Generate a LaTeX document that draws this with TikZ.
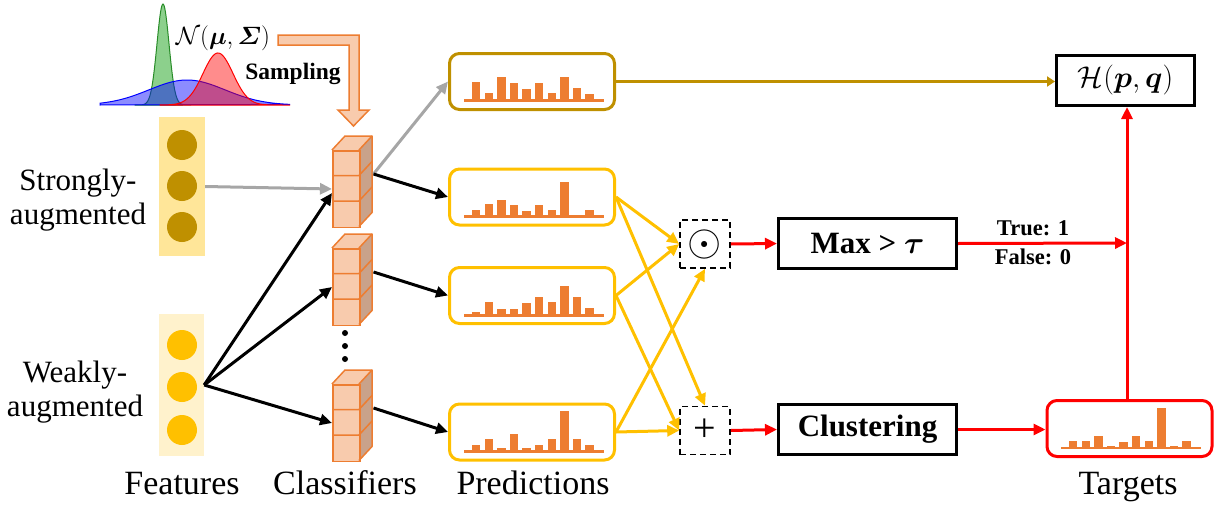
\RequirePackage{fix-cm}
\documentclass[tikz,border=0pt]{standalone}
\usepackage{amsmath,bm}
\usepackage{fontspec}
\setmainfont{Liberation Serif}
\usetikzlibrary{arrows.meta,calc}
\definecolor{peach}{HTML}{F8CBAD}
\definecolor{orangec}{HTML}{ED7D31}
\definecolor{sidec}{RGB}{201,162,138}
\definecolor{goldc}{HTML}{BF9000}
\definecolor{yellowc}{HTML}{FFC000}
\definecolor{strongbg}{HTML}{FFE699}
\definecolor{weakbg}{HTML}{FFF2CC}
\definecolor{grayc}{HTML}{A6A6A6}
\definecolor{barc}{HTML}{ED7D31}
\definecolor{gfill}{RGB}{0,150,0}
\definecolor{gline}{RGB}{40,140,40}

\newcommand{\clsstack}[3]{%
  \fill[sidec] (#2+27,#3) -- ++(13,-14) -- ++(0,76.5) -- ++(-13,14) -- cycle;
  \fill[peach] (#2,#3) -- ++(13,-14) -- ++(27,0) -- ++(-13,14) -- cycle;
  \node[stackfront, anchor=north west] (#1) at (#2,#3) {};
  \draw[stackline] (#2,#3) -- ++(13,-14) -- ++(27,0) -- ++(0,76.5) -- ++(-13,14);
  \draw[stackline] (#2+27,#3) -- ++(13,-14);
  \draw[stackline] (#2,#3+25.5) -- ++(27,0) -- ++(13,-14);
  \draw[stackline] (#2,#3+51) -- ++(27,0) -- ++(13,-14);
}
\newcommand{\histo}[3]{%
  \fill[barc] (#1+16,#2-9.5) rectangle (#1+156,#2-12);
  \foreach \h [count=\i from 0] in {#3}
    \fill[barc] ({#1+24+12.6*\i},#2-10.5) rectangle ++(8.3,-\h);
}

\begin{document}
\begin{tikzpicture}[x=1pt,y=-1pt,
  stackfront/.style={draw=orangec, fill=peach, line width=1.5pt, minimum width=27pt, minimum height=76.5pt, inner sep=0pt},
  stackline/.style={draw=orangec, line width=1.5pt, line join=round},
  arr/.style={-{Triangle[length=12pt,width=11pt]}, line width=3pt},
  blk/.style={arr, black},
  gry/.style={arr, grayc},
  ylw/.style={arr, yellowc},
  redarr/.style={arr, red},
  pbox/.style={draw, rounded corners=10pt, line width=3pt, minimum width=165pt, minimum height=56pt, inner sep=0pt},
  dbox/.style={draw, line width=1.6pt, dash pattern=on 6pt off 4pt, minimum width=50pt, minimum height=48pt, inner sep=0pt},
  bbox/.style={draw, line width=3pt, minimum width=178pt, minimum height=50pt, inner sep=0pt, font=\bfseries\fontsize{31}{36}\selectfont},
  sidelbl/.style={align=center, inner sep=0pt, font=\fontsize{31}{34}\selectfont},
  botlbl/.style={anchor=base, inner sep=0pt, font=\fontsize{34}{40}\selectfont},
  smallbold/.style={inner sep=0pt, font=\bfseries\fontsize{22.5}{26}\selectfont}
]
\useasboundingbox (0,0) rectangle (1218,506);

% Gaussians
\filldraw[fill=gfill, fill opacity=0.45, draw=gline, line width=1pt]
  (135,105) -- plot[domain=135:191, samples=80] (\x,{105-101*exp(-((\x-163)/6)^2/2)}) -- cycle;
\filldraw[fill=blue, fill opacity=0.45, draw=blue, line width=1pt]
  (100,105) -- plot[domain=100:290, samples=100] (\x,{105-25*exp(-((\x-187)/38)^2/2)}) -- cycle;
\filldraw[fill=red, fill opacity=0.45, draw=red, line width=1pt]
  (160,105) -- plot[domain=160:290, samples=100] (\x,{105-52*exp(-((\x-218)/15)^2/2)}) -- cycle;
\node[inner sep=0pt, font=\fontsize{25}{30}\selectfont] (gauss) at (223,38) {$\mathcal{N}(\bm{\mu},\bm{\varSigma})$};
\node[inner sep=0pt, font=\bfseries\fontsize{23.5}{28}\selectfont] (samp) at (293,74) {Sampling};

% Sampling bent arrow
\filldraw[fill=peach, draw=orangec, line width=1.5pt, line join=miter]
  (278,35) -- (359,35) -- (359,110) -- (369,110) -- (353.5,126) -- (338,110) -- (349,110) -- (349,45) -- (278,45) -- cycle;

% Feature columns
\node[fill=strongbg, minimum width=46pt, minimum height=139pt, inner sep=0pt] (fs) at (182,186.5) {};
\fill[goldc] (182,145) circle (15) (182,186) circle (15) (182,227) circle (15);
\node[fill=weakbg, minimum width=45pt, minimum height=142pt, inner sep=0pt] (fw) at (181.5,385) {};
\fill[yellowc] (182,345) circle (15) (182,387) circle (15) (182,430) circle (15);

\node[sidelbl] (lstr) at (78,200) {Strongly-\\augmented};
\node[sidelbl] (lweak) at (75,392) {Weakly-\\augmented};

% Classifiers
\clsstack{s1}{332}{150}
\clsstack{s2}{332}{248}
\clsstack{s3}{332}{384}
\fill (345,333) circle (3) (345,346) circle (3) (345,359) circle (3);
\coordinate (s1o) at ($(s1.north east)+(13,24)$);
\coordinate (s2o) at ($(s2.north east)+(13,24)$);
\coordinate (s3o) at ($(s3.north east)+(13,24)$);

% Predictions
\node[pbox, draw=goldc] (p0) at (532,81.5) {};
\node[pbox, draw=yellowc] (p1) at (532,197) {};
\node[pbox, draw=yellowc] (p2) at (532,295.5) {};
\node[pbox, draw=yellowc] (p3) at (532,432) {};
\histo{448}{111}{18.3,7.7,23.3,17.7,12,17.7,7.7,24,12.7,7}
\histo{448}{227}{6.3,12.3,17,11.7,5.7,11.7,6.7,34.3,2,6.7}
\histo{448}{326}{3.7,13.7,7,7,13,18.3,13.7,30,18.7,7.7}
\histo{448}{462}{7,12.7,3.3,18,3.3,7,12.7,40.7,12.7,7}

% Targets
\node[pbox, draw=red] (tg) at (1129.5,428.5) {};
\histo{1045}{458.5}{6.7,6.7,11.7,1.7,6,11.7,6.7,40,2,6.7}

% Operators and boxes
\node[dbox] (od) at (705,244) {\fontsize{44}{48}\selectfont$\odot$};
\node[dbox] (pl) at (705,430.5) {\fontsize{40}{44}\selectfont +};
\node[bbox] (mx) at (867.5,243.5) {Max > $\bm{\tau}$};
\node[bbox] (cl) at (867.5,429.5) {Clustering};
\node[draw, line width=3pt, minimum width=138pt, minimum height=50pt, inner sep=0pt, font=\fontsize{30}{36}\selectfont] (H) at (1125.5,80.5) {$\mathcal{H}(\bm{p},\bm{q})$};
\coordinate (vj) at (1127,243);

% Bottom labels
\node[botlbl] (lf) at (182,494) {Features};
\node[botlbl] (lc) at (345,494) {Classifiers};
\node[botlbl] (lp) at (533,494) {Predictions};
\node[botlbl] (lt) at (1128,494) {Targets};

% Connectors: features -> classifiers
\draw[gry] (fs.east) -- (s1.west);
\draw[blk] (fw.east) -- ([yshift=-4pt]s1.west);
\draw[blk] (fw.east) -- (s2.west);
\draw[blk] (fw.east) -- (s3.west);
% classifiers -> predictions
\draw[gry] (s1o) -- (p0.west);
\draw[blk] (s1o) -- (p1.west);
\draw[blk] (s2o) -- (p2.west);
\draw[blk] (s3o) -- (p3.west);
% predictions -> operators
\draw[ylw] (p1.east) -- (od.west);
\draw[ylw] (p1.east) -- (pl.north);
\draw[ylw] (p2.east) -- (od.west);
\draw[ylw] (p2.east) -- (pl.west);
\draw[ylw] (p3.east) -- (od.south);
\draw[ylw] (p3.east) -- (pl.west);
% red flow
\draw[redarr] (od.east) -- (mx.west);
\draw[redarr] (pl.east) -- (cl.west);
\draw[redarr] (cl.east) -- (cl.east -| tg.west);
\draw[redarr] (tg.north -| vj) -- (vj |- H.south);
\draw[redarr] (mx.east) -- (vj);
\node[smallbold] (tru) at (1033,228) {True: 1};
\node[smallbold] (fal) at (1033,257) {False: 0};
% gold to H
\draw[-{Triangle[length=8pt,width=10pt]}, line width=3pt, goldc] (p0.east) -- (p0.east -| H.west);
\end{tikzpicture}
\end{document}
